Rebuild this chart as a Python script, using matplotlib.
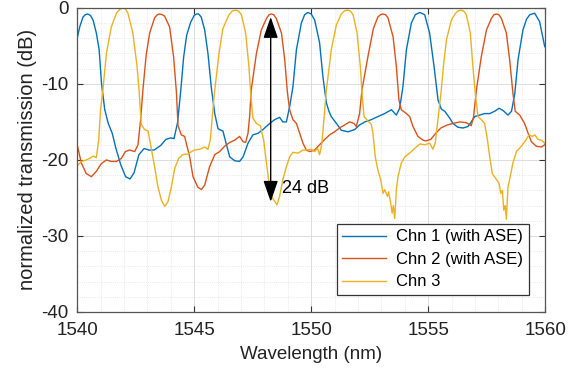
import matplotlib
matplotlib.use('Agg')
import matplotlib.pyplot as plt
from matplotlib.ticker import MultipleLocator

# Chn 1 (with ASE)
chn1_wl = [1540.00, 1540.11, 1540.25, 1540.35, 1540.45, 1540.57, 1540.68, 1540.82, 1540.94, 1541.04,
           1541.18, 1541.33, 1541.50, 1541.65, 1541.86, 1542.07, 1542.26, 1542.43, 1542.64, 1542.86,
           1543.07, 1543.29, 1543.57, 1543.79, 1544.00, 1544.14, 1544.29, 1544.43, 1544.55, 1544.68,
           1544.85, 1545.00, 1545.10, 1545.19, 1545.30, 1545.45, 1545.59, 1545.73, 1545.88, 1546.02,
           1546.23, 1546.38, 1546.52, 1546.73, 1546.94, 1547.09, 1547.30, 1547.51, 1547.73, 1547.94,
           1548.23, 1548.44, 1548.65, 1548.79, 1548.94, 1549.08, 1549.22, 1549.37, 1549.58, 1549.72,
           1549.86, 1550.00, 1550.15, 1550.36, 1550.50, 1550.65, 1550.76, 1550.86, 1551.08, 1551.29,
           1551.57, 1551.86, 1552.07, 1552.29, 1552.57, 1552.85, 1553.14, 1553.43, 1553.64, 1553.78,
           1553.92, 1554.07, 1554.28, 1554.45, 1554.64, 1554.85, 1555.06, 1555.25, 1555.42, 1555.56,
           1555.71, 1555.92, 1556.06, 1556.27, 1556.49, 1556.70, 1556.84, 1556.99, 1557.20, 1557.41,
           1557.63, 1557.84, 1558.03, 1558.20, 1558.41, 1558.56, 1558.70, 1558.84, 1559.05, 1559.20,
           1559.34, 1559.55, 1559.76, 1559.98]
chn1_db = [-4.0, -2.5, -1.2, -0.9, -0.8, -1.0, -1.6, -3.3, -5.5, -9.9,
           -13.4, -15.2, -16.5, -18.4, -20.6, -22.2, -22.5, -21.7, -19.3, -18.5,
           -18.7, -18.7, -18.1, -17.3, -17.1, -17.2, -15.1, -10.8, -6.5, -3.6,
           -1.9, -1.0, -0.8, -0.8, -1.2, -2.9, -6.0, -10.4, -13.9, -15.9,
           -16.2, -18.0, -19.6, -20.1, -20.2, -19.6, -17.8, -16.7, -16.5, -16.0,
           -15.2, -14.7, -14.4, -15.0, -15.0, -13.0, -10.4, -5.5, -2.0, -0.9,
           -0.6, -0.8, -1.6, -4.6, -9.0, -12.5, -13.6, -14.3, -15.2, -16.1,
           -16.3, -16.0, -15.4, -15.0, -14.7, -14.3, -13.9, -13.4, -14.1, -13.2,
           -10.4, -5.5, -2.0, -0.9, -0.6, -0.9, -3.3, -7.7, -12.1, -13.3,
           -13.6, -14.5, -15.2, -15.7, -15.8, -15.6, -15.0, -14.3, -14.1, -13.9,
           -13.9, -13.6, -13.2, -13.5, -14.1, -13.6, -11.3, -6.8, -2.9, -1.5,
           -0.9, -0.7, -1.8, -5.1]

# Chn 2 (with ASE)
chn2_wl = [1540.00, 1540.18, 1540.39, 1540.61, 1540.82, 1541.03, 1541.25, 1541.46, 1541.68, 1541.89,
           1542.06, 1542.24, 1542.46, 1542.60, 1542.71, 1542.81, 1542.95, 1543.10, 1543.31, 1543.43,
           1543.53, 1543.64, 1543.74, 1543.95, 1544.12, 1544.24, 1544.31, 1544.45, 1544.59, 1544.81,
           1544.95, 1545.16, 1545.31, 1545.45, 1545.66, 1545.88, 1546.09, 1546.30, 1546.52, 1546.73,
           1546.94, 1547.09, 1547.20, 1547.30, 1547.37, 1547.44, 1547.66, 1547.87, 1548.09, 1548.20,
           1548.30, 1548.40, 1548.51, 1548.73, 1548.87, 1548.98, 1549.08, 1549.22, 1549.37, 1549.51,
           1549.65, 1549.79, 1549.94, 1550.15, 1550.36, 1550.58, 1550.79, 1551.00, 1551.21, 1551.43,
           1551.64, 1551.83, 1551.93, 1552.07, 1552.17, 1552.45, 1552.66, 1552.85, 1552.96, 1553.07,
           1553.18, 1553.28, 1553.50, 1553.64, 1553.75, 1553.85, 1554.07, 1554.21, 1554.35, 1554.56,
           1554.78, 1554.89, 1555.11, 1555.32, 1555.54, 1555.82, 1556.06, 1556.35, 1556.63, 1556.84,
           1556.94, 1557.06, 1557.27, 1557.49, 1557.70, 1557.81, 1557.91, 1558.02, 1558.13, 1558.34,
           1558.48, 1558.62, 1558.72, 1558.91, 1559.12, 1559.27, 1559.41, 1559.62, 1559.84, 1559.98]
chn2_db = [-18.0, -20.4, -21.8, -22.2, -21.5, -20.5, -20.0, -20.2, -20.2, -19.8,
           -18.9, -18.7, -18.9, -18.0, -14.8, -10.8, -6.2, -3.3, -1.3, -0.9,
           -0.8, -0.9, -1.1, -2.5, -6.4, -11.0, -15.5, -16.7, -16.9, -19.6,
           -22.2, -23.6, -23.9, -23.3, -20.9, -19.3, -18.9, -18.2, -17.7, -17.4,
           -16.9, -17.6, -17.7, -16.5, -14.3, -10.8, -6.0, -2.9, -1.4, -0.9,
           -0.8, -0.9, -1.4, -3.3, -6.8, -11.0, -13.4, -14.7, -15.2, -16.5,
           -17.8, -18.7, -18.9, -18.7, -18.0, -17.3, -16.7, -16.3, -15.8, -15.4,
           -15.0, -15.2, -15.6, -13.9, -10.8, -6.0, -2.7, -1.2, -0.9, -0.8,
           -0.9, -1.3, -3.8, -7.7, -12.1, -13.4, -13.9, -14.3, -15.6, -16.9,
           -17.4, -17.5, -17.3, -16.5, -15.8, -15.4, -15.2, -15.0, -15.1, -15.5,
           -14.3, -10.8, -6.4, -2.9, -1.4, -0.9, -0.8, -0.9, -1.4, -3.3,
           -6.8, -11.2, -13.6, -14.1, -15.2, -16.5, -17.6, -18.2, -18.3, -18.0]

# Chn 3
chn3_wl = [1540.00, 1540.18, 1540.39, 1540.53, 1540.68, 1540.82, 1540.92, 1541.00, 1541.10, 1541.25,
           1541.46, 1541.68, 1541.82, 1541.96, 1542.06, 1542.17, 1542.38, 1542.56, 1542.65, 1542.74,
           1542.88, 1543.03, 1543.14, 1543.31, 1543.45, 1543.60, 1543.74, 1543.88, 1544.03, 1544.17,
           1544.34, 1544.52, 1544.74, 1545.00, 1545.24, 1545.45, 1545.59, 1545.69, 1545.80, 1545.88,
           1546.06, 1546.23, 1546.49, 1546.63, 1546.76, 1546.89, 1547.02, 1547.20, 1547.34, 1547.42,
           1547.51, 1547.66, 1547.83, 1547.97, 1548.09, 1548.20, 1548.34, 1548.54, 1548.65, 1548.79,
           1548.94, 1549.08, 1549.22, 1549.44, 1549.65, 1549.80, 1550.00, 1550.15, 1550.27, 1550.36,
           1550.46, 1550.58, 1550.65, 1550.86, 1551.08, 1551.29, 1551.42, 1551.55, 1551.67, 1551.79,
           1551.96, 1552.10, 1552.18, 1552.26, 1552.43, 1552.57, 1552.64, 1552.74, 1552.85, 1552.97,
           1553.07, 1553.14, 1553.26, 1553.31, 1553.40, 1553.46, 1553.51, 1553.57, 1553.64, 1553.71,
           1553.85, 1554.00, 1554.21, 1554.42, 1554.64, 1554.86, 1555.07, 1555.20, 1555.30, 1555.40,
           1555.48, 1555.56, 1555.65, 1555.78, 1555.99, 1556.17, 1556.28, 1556.39, 1556.51, 1556.63,
           1556.80, 1556.91, 1557.02, 1557.13, 1557.27, 1557.41, 1557.51, 1557.63, 1557.74, 1557.88,
           1558.03, 1558.10, 1558.17, 1558.23, 1558.29, 1558.34, 1558.41, 1558.48, 1558.62, 1558.77,
           1558.98, 1559.17, 1559.31, 1559.46, 1559.56, 1559.69, 1559.84, 1559.98]
chn3_db = [-20.8, -20.2, -20.0, -19.8, -19.5, -19.7, -17.4, -13.4, -10.8, -6.0,
           -2.5, -0.7, -0.2, 0.0, -0.1, -0.7, -3.3, -7.7, -11.0, -15.3,
           -16.0, -16.2, -18.0, -20.9, -23.5, -25.3, -26.1, -25.5, -23.5, -21.1,
           -19.8, -19.3, -19.2, -18.7, -18.6, -18.3, -18.6, -17.4, -13.4, -10.8,
           -6.0, -2.7, -0.9, -0.4, -0.3, -0.4, -0.9, -3.3, -7.7, -11.5,
           -14.5, -15.2, -15.5, -17.4, -20.4, -23.1, -25.0, -25.9, -24.8, -22.6,
           -20.9, -19.6, -19.0, -19.1, -18.7, -18.7, -18.6, -18.9, -18.5, -19.3,
           -17.8, -13.4, -10.8, -5.5, -2.2, -0.8, -0.4, -0.3, -0.4, -0.9,
           -3.3, -7.7, -11.5, -14.3, -14.9, -15.3, -16.5, -19.6, -21.3, -22.6,
           -24.4, -23.9, -24.8, -24.2, -25.7, -27.0, -26.0, -27.7, -23.9, -22.2,
           -20.4, -19.6, -19.1, -18.5, -17.9, -18.0, -17.8, -18.6, -17.8, -15.2,
           -13.0, -10.8, -7.7, -4.2, -1.6, -0.7, -0.4, -0.3, -0.4, -0.9,
           -3.3, -7.7, -11.5, -14.3, -14.7, -15.2, -16.9, -19.6, -21.8, -22.4,
           -23.1, -24.4, -24.0, -26.6, -26.0, -27.8, -23.5, -22.6, -20.4, -18.9,
           -18.2, -17.4, -16.7, -16.9, -16.7, -17.3, -17.4, -17.8]

# 24 dB extinction marker
arrow_wl = 1548.27
arrow_top = -1.2
arrow_bottom = -25.5

plt.rcParams['font.family'] = ['Liberation Sans', 'DejaVu Sans']
plt.rcParams['axes.unicode_minus'] = False

fig, ax = plt.subplots(figsize=(5.8, 3.75), dpi=100)
fig.subplots_adjust(left=0.133, right=0.94, top=0.979, bottom=0.168)

ax.plot(chn1_wl, chn1_db, color='#0072BD', linewidth=1.0, label='Chn 1 (with ASE)')
ax.plot(chn2_wl, chn2_db, color='#D95319', linewidth=1.0, label='Chn 2 (with ASE)')
ax.plot(chn3_wl, chn3_db, color='#EDB120', linewidth=1.0, label='Chn 3')

ax.annotate('', xy=(arrow_wl, arrow_top), xytext=(arrow_wl, arrow_bottom),
            arrowprops=dict(arrowstyle='<|-|>,head_length=1.3,head_width=0.45',
                            color='black', lw=1.0, shrinkA=0, shrinkB=0))
ax.text(1548.75, -23.7, '24 dB', fontsize=13, va='center', ha='left')

ax.set_xlim(1540, 1560)
ax.set_ylim(-40, 0)
ax.xaxis.set_major_locator(MultipleLocator(5))
ax.xaxis.set_minor_locator(MultipleLocator(1))
ax.yaxis.set_major_locator(MultipleLocator(10))
ax.yaxis.set_minor_locator(MultipleLocator(2))
ax.grid(True, which='major', color='#dcdcdc', linewidth=0.7)
ax.grid(True, which='minor', color='#e2e2e2', linewidth=0.6, linestyle=':')
ax.set_axisbelow(True)

ax.tick_params(which='both', direction='in', top=True, right=True, colors='#333333',
               labelcolor='#222222', labelsize=13.5)
ax.tick_params(which='major', length=4)
ax.tick_params(which='minor', length=0)
ax.tick_params(axis='x', pad=7)
ax.tick_params(axis='y', pad=6)
for s in ax.spines.values():
    s.set_color('#555555')
    s.set_linewidth(0.9)

ax.set_xlabel('Wavelength (nm)', fontsize=13.5, color='#222222', labelpad=5)
ax.set_ylabel('normalized transmission (dB)', fontsize=14.5, color='#222222', labelpad=3)

leg = ax.legend(loc='lower right', fontsize=12, fancybox=False, framealpha=1,
                edgecolor='#333333', handlelength=2.6, handletextpad=0.6,
                borderaxespad=1.0, labelspacing=0.45, borderpad=0.35)
leg.get_frame().set_linewidth(0.9)

plt.savefig('out.png')
